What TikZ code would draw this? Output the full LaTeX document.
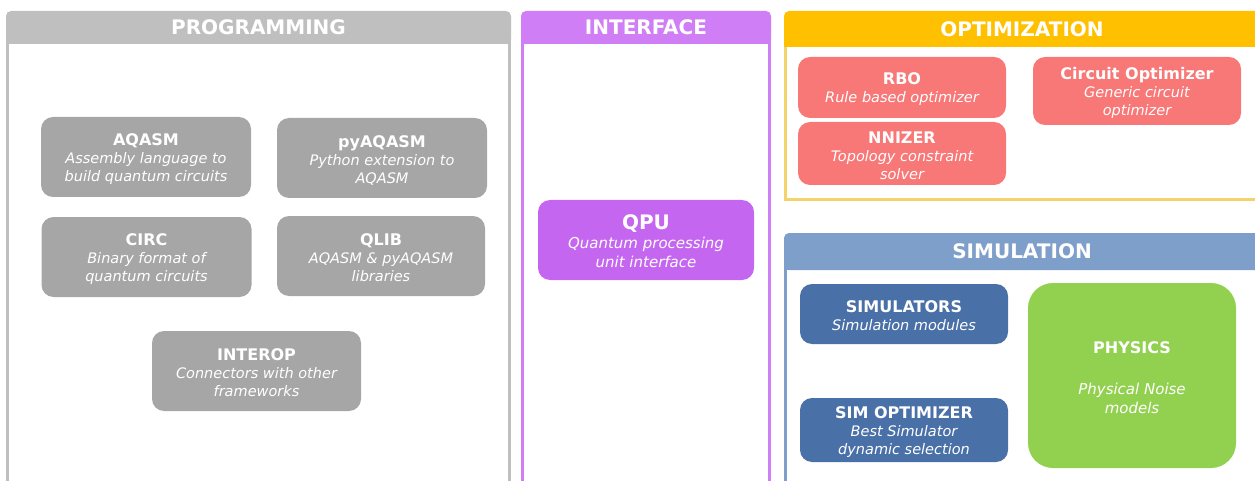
\documentclass[tikz,border=0pt]{standalone}
\usepackage{fontspec}
\setmainfont{DejaVu Sans}
\definecolor{progbar}{HTML}{BFBFBF}
\definecolor{progbox}{HTML}{A6A6A6}
\definecolor{intbar}{HTML}{D07EF5}
\definecolor{intbox}{HTML}{C566F0}
\definecolor{optbar}{HTML}{FFC000}
\definecolor{optline}{HTML}{F2D46A}
\definecolor{optbox}{HTML}{F87777}
\definecolor{simbar}{HTML}{7F9FCB}
\definecolor{simbox}{HTML}{4A70A8}
\definecolor{physbox}{HTML}{92D050}
\newcommand{\boxhead}[1]{{\fontsize{16}{18}\selectfont\bfseries\upshape\rule{0pt}{16pt}#1}}
\begin{document}
\begin{tikzpicture}[x=1pt,y=-1pt,
		header/.style={rounded corners=5pt,text=white,inner sep=0pt,font=\fontsize{20}{24}\selectfont\bfseries},
		side/.style={line width=3pt},
		module/.style={rounded corners=12pt,text=white,align=center,inner sep=0pt,
			minimum width=210pt,minimum height=80pt,font=\fontsize{14.5}{18}\selectfont\itshape}]
		\useasboundingbox (0,0) rectangle (1255,481);
		\clip (0,0) rectangle (1255,481);
		% panel headers
		\node[header,fill=progbar,minimum width=505pt,minimum height=33pt] (proghd) at (258.5,27.5) {PROGRAMMING};
		\node[header,fill=intbar,minimum width=250pt,minimum height=33pt] (inthd) at (646,27.5) {INTERFACE};
		\node[header,fill=optbar,minimum width=476pt,minimum height=36pt] (opthd) at (1022,29) {OPTIMIZATION};
		\node[header,fill=simbar,minimum width=476pt,minimum height=37pt] (simhd) at (1022,251.5) {SIMULATION};
		\foreach \hd/\col in {proghd/progbar,inthd/intbar,opthd/optbar,simhd/simbar}{
			\fill[\col] ([yshift=8pt]\hd.south west) rectangle (\hd.south east);
		}
		% panel borders
		\draw[side,progbar] ([xshift=1.5pt]proghd.south west) -- ++(0,450);
		\draw[side,progbar] ([xshift=-1.5pt]proghd.south east) -- ++(0,450);
		\draw[side,intbar] ([xshift=1.5pt]inthd.south west) -- ++(0,450);
		\draw[side,intbar] ([xshift=-1.5pt]inthd.south east) -- ++(0,450);
		\draw[side,optline] ([xshift=1.5pt]opthd.south west) |- ++(480,152.5);
		\draw[side,simbar] ([xshift=1.5pt]simhd.south west) -- ++(0,230);
		% programming
		\node[module,fill=progbox] (aqasm) at (146,157) {\boxhead{AQASM}\\Assembly language to\\build quantum circuits};
		\node[module,fill=progbox] (pyaqasm) at (382,158) {\boxhead{pyAQASM}\\Python extension to\\AQASM};
		\node[module,fill=progbox] (circ) at (146.5,257) {\boxhead{CIRC}\\Binary format of\\quantum circuits};
		\node[module,fill=progbox,minimum width=208pt] (qlib) at (381,256) {\boxhead{QLIB}\\AQASM \& pyAQASM\\libraries};
		\node[module,fill=progbox,minimum width=209pt] (interop) at (256.5,371) {\boxhead{INTEROP}\\Connectors with other\\frameworks};
		% interface
		\node[module,fill=intbox,minimum width=216pt,font=\fontsize{15}{19}\selectfont\itshape] (qpu) at (646,240)
			{{\fontsize{20}{22}\selectfont\bfseries\upshape\rule{0pt}{18pt}QPU}\\Quantum processing\\unit interface};
		% optimization
		\node[module,fill=optbox,minimum width=208pt,minimum height=61pt] (rbo) at (902,87.5) {\boxhead{RBO}\\Rule based optimizer};
		\node[module,fill=optbox,minimum width=208pt,minimum height=63pt] (nnizer) at (902,153.5) {\boxhead{NNIZER}\\Topology constraint\\solver};
		\node[module,fill=optbox,minimum width=208pt,minimum height=68pt] (circopt) at (1137,91) {\boxhead{Circuit Optimizer}\\Generic circuit\\optimizer};
		% simulation
		\node[module,fill=simbox,minimum width=208pt,minimum height=60pt] (simul) at (904,314) {\boxhead{SIMULATORS}\\Simulation modules};
		\node[module,fill=simbox,minimum width=208pt,minimum height=64pt] (simopt) at (904,430) {\boxhead{SIM OPTIMIZER}\\Best Simulator\\dynamic selection};
		\node[module,fill=physbox,minimum width=208pt,minimum height=185pt,rounded corners=25pt,font=\fontsize{15}{19}\selectfont\itshape] (phys) at (1132,375.5)
			{\boxhead{PHYSICS}\\[22pt]Physical Noise\\models};
	\end{tikzpicture}
\end{document}
